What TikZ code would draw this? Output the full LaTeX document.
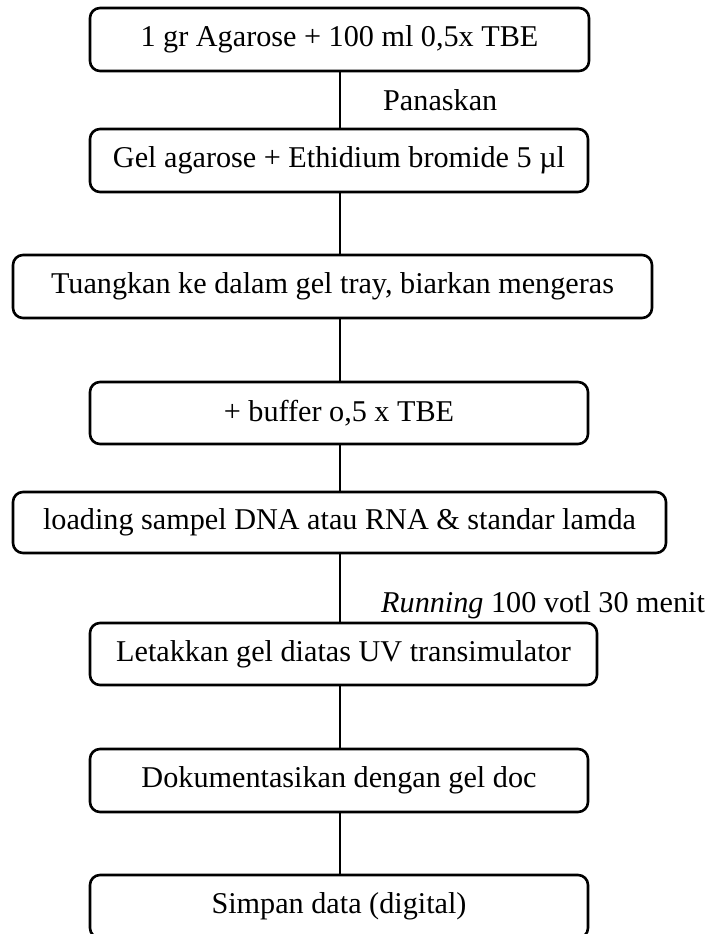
\documentclass[tikz,border=0pt]{standalone}
\usepackage{fontspec}
\setmainfont{Liberation Serif}
\begin{document}
\begin{tikzpicture}[x=1pt,y=-1pt,
  stepbox/.style={draw, line width=2.6pt, rounded corners=10pt, inner sep=0pt,
    font=\fontsize{30.2}{35}\selectfont, minimum height=63pt},
  link/.style={line width=1.2pt},
  lbl/.style={font=\fontsize{30.2}{35}\selectfont, anchor=west, inner sep=0pt}]
\clip (0,0) rectangle (716,934);
\fill[white] (0,0) rectangle (716,934);
\node[stepbox, minimum width=499pt] (b1) at (339.5,39.5) {1 gr Agarose + 100 ml 0,5x TBE};
\node[stepbox, minimum width=498pt] (b2) at (339,160.5) {Gel agarose + Ethidium bromide 5 µl};
\node[stepbox, minimum width=639pt] (b3) at (332.5,286.5) {Tuangkan ke dalam gel tray, biarkan mengeras};
\node[stepbox, minimum width=498pt, minimum height=62pt] (b4) at (339,413) {+ buffer o,5 x TBE};
\node[stepbox, minimum width=653pt, minimum height=61pt] (b5) at (339.5,522.5) {loading sampel DNA atau RNA \& standar lamda};
\node[stepbox, minimum width=507pt, minimum height=62pt] (b6) at (343.5,654) {Letakkan gel diatas UV transimulator};
\node[stepbox, minimum width=498pt] (b7) at (339,780.5) {Dokumentasikan dengan gel doc};
\node[stepbox, minimum width=498pt] (b8) at (339,906.5) {Simpan data (digital)};
\coordinate (spine) at (340,0);
\draw[link] (b1.south -| spine) -- (b2.north -| spine);
\draw[link] (b2.south -| spine) -- (b3.north -| spine);
\draw[link] (b3.south -| spine) -- (b4.north -| spine);
\draw[link] (b4.south -| spine) -- (b5.north -| spine);
\draw[link] (b5.south -| spine) -- (b6.north -| spine);
\draw[link] (b6.south -| spine) -- (b7.north -| spine);
\draw[link] (b7.south -| spine) -- (b8.north -| spine);
\node[lbl] (l1) at (383,100) {Panaskan};
\node[lbl] (l2) at (381,605) {\textit{Running} 100 votl 30 menit};
\end{tikzpicture}
\end{document}
